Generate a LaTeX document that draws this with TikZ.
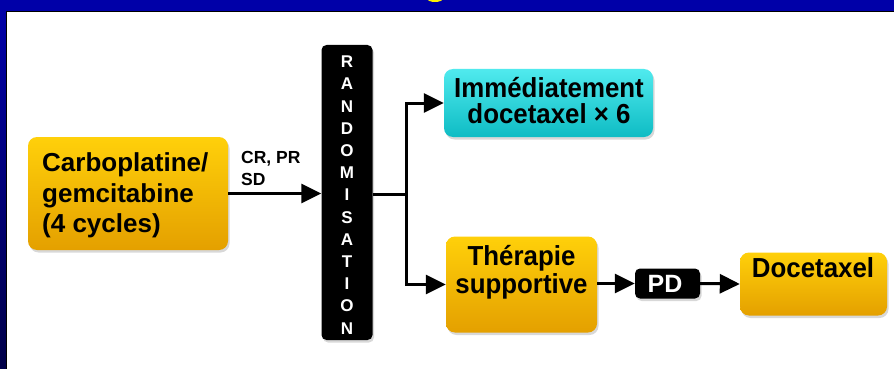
\documentclass[tikz,border=0pt]{standalone}
\usepackage{fontspec}
\setmainfont{Liberation Sans}
\newfontfamily\tallsans[FakeStretch=0.94]{Liberation Sans}
\usetikzlibrary{arrows.meta,shadows,calc}
\definecolor{barblue}{RGB}{0,0,168}
\definecolor{navy}{RGB}{0,0,72}
\definecolor{ytop}{RGB}{255,208,10}
\definecolor{ybot}{RGB}{228,160,0}
\definecolor{ctop}{RGB}{80,234,238}
\definecolor{cbot}{RGB}{14,188,196}
\begin{document}
\begin{tikzpicture}[x=1pt,y=-1pt,
  box/.style={rounded corners=9pt, inner sep=0pt,
    drop shadow={shadow xshift=1.5pt,shadow yshift=-2.5pt,opacity=0.3}},
  ybox/.style={box, top color=ytop, bottom color=ybot},
  cbox/.style={box, top color=ctop, bottom color=cbot},
  kbox/.style={box, rounded corners=5pt, fill=black},
  big/.style={font=\fontsize{26}{28}\selectfont\bfseries, inner sep=0pt},
  tall/.style={font=\tallsans\fontsize{27.5}{29}\selectfont\bfseries, inner sep=0pt},
  small/.style={font=\fontsize{17.5}{19}\selectfont\bfseries, inner sep=0pt},
  letter/.style={font=\fontsize{17}{18}\selectfont\bfseries, text=white, inner sep=0pt},
  conn/.style={line width=3pt, line join=miter, -{Triangle[length=20pt,width=19pt]}},
  ]
\useasboundingbox (0,0) rectangle (894,369);
% background frame
\fill[white] (0,0) rectangle (894,369);
\fill[barblue] (0,0) rectangle (894,11);
\begin{scope}
  \clip (0,0) rectangle (894,11);
  \fill[yellow] (435,-1.5) ellipse (8 and 3.5);
\end{scope}
\shade[top color=barblue, bottom color=navy] (0,11) rectangle (6,369);
\draw[black, line width=0.8pt] (6,11.4) -- (894,11.4);
\draw[black, line width=0.8pt] (6.4,11) -- (6.4,369);

% boxes
\node[ybox, minimum width=200pt, minimum height=113pt] (carbo) at (128,193.5) {};
\node[kbox, minimum width=51pt, minimum height=295pt] (rand) at (347,192.5) {};
\node[cbox, minimum width=209pt, minimum height=68pt] (imm) at (548.5,103) {};
\node[ybox, minimum width=151pt, minimum height=96pt] (ther) at (521.5,284.5) {};
\node[kbox, minimum width=65pt, minimum height=30pt] (pd) at (667.5,283.5) {};
\node[ybox, minimum width=147pt, minimum height=63pt] (doc) at (813.5,284) {};

% texts
\node[big, anchor=base west] (c1) at (42,171) {Carboplatine/};
\node[big, anchor=base west] (c2) at (42,202.5) {gemcitabine};
\node[big, anchor=base west] (c3) at (42,232) {(4 cycles)};
\node[small, anchor=base west] (l1) at (241,163) {CR, PR};
\node[small, anchor=base west] (l2) at (241,185) {SD};
\foreach \ch [count=\i from 0] in {R,A,N,D,O,M,I,S,A,T,I,O,N}
  \node[letter] (r\i) at (347,61.8+22.2*\i) {\ch};
\node[tall, anchor=base] (i1) at (549,97) {Immédiatement};
\node[tall, anchor=base] (i2) at (549,123.5) {docetaxel × 6};
\node[tall, anchor=base] (t1) at (521.5,265) {Thérapie};
\node[tall, anchor=base] (t2) at (521.5,293) {supportive};
\node[font=\fontsize{25}{26}\selectfont\bfseries, text=white, inner sep=0pt, anchor=base] (pdt) at (665,292.5) {PD};
\node[tall, anchor=base] (d1) at (813,277) {Docetaxel};

% connectors
\coordinate (split) at (406,194);
\draw[conn] (carbo.east) -- (carbo.east -| rand.west);
\draw[line width=3pt] (rand.east |- split) -- (split);
\draw[conn] (split) |- (imm.west);
\draw[conn] (split) |- (ther.west);
\draw[conn] (ther.east |- pd.west) -- (pd.west);
\draw[conn] (pd.east) -- (doc.west);
\end{tikzpicture}
\end{document}
